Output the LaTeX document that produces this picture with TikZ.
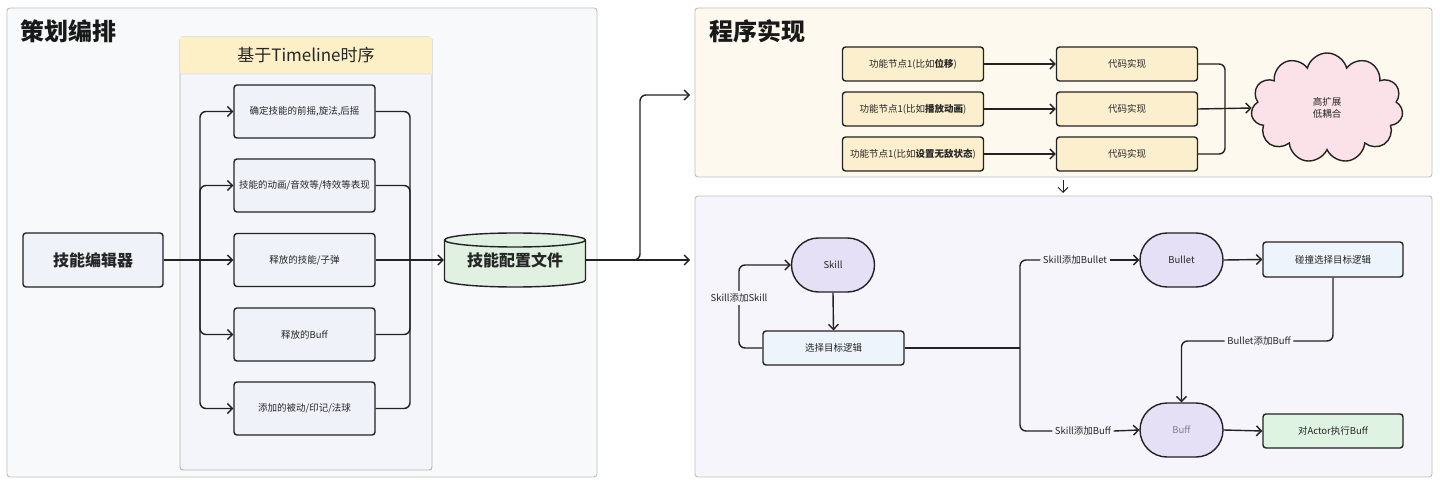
\documentclass[tikz,border=0pt]{standalone}
\usepackage{fontspec}
\setmainfont{Noto Sans CJK SC}
\usetikzlibrary{arrows.meta,shapes.misc,shapes.symbols}
\definecolor{leftBg}{HTML}{F8F9FB}
\definecolor{tlBg}{HTML}{F3F5FA}
\definecolor{tlHead}{HTML}{FDEFC6}
\definecolor{blueBox}{HTML}{EFF2F9}
\definecolor{cylFill}{HTML}{E0F1E1}
\definecolor{topBg}{HTML}{FDF9EE}
\definecolor{yelBox}{HTML}{FCEFCD}
\definecolor{pinkFill}{HTML}{FBE2E8}
\definecolor{botBg}{HTML}{F6F5FB}
\definecolor{lavFill}{HTML}{E6E0F7}
\definecolor{skyBox}{HTML}{EEF4FB}
\definecolor{greenBox}{HTML}{DEF3E2}
\definecolor{ink}{HTML}{222222}

\begin{document}
\begin{tikzpicture}[x=1pt,y=-1pt,>={Straight Barb[length=5pt,width=10pt]},
  line width=1.4pt,draw=ink,
  every node/.style={font=\fontsize{9.5}{11.5}\selectfont,text=black!85},
  panel/.style={draw=black!25,line width=0.9pt,rounded corners=3pt},
  box/.style={draw=ink,rounded corners=3pt,minimum width=141pt,minimum height=53pt,fill=blueBox,inner sep=0pt},
  fbox/.style={box,minimum height=34pt,fill=yelBox},
  pill/.style={rounded rectangle,draw=ink,minimum width=83pt,minimum height=54pt,fill=lavFill,inner sep=0pt},
  lbl/.style={inner sep=2pt},
  title/.style={font=\fontsize{24}{28}\selectfont\bfseries,text=black!90,anchor=west}]
  \useasboundingbox (0,0) rectangle (1440,486);

  \draw[panel,fill=leftBg] (7,8) rectangle (597,477);
  \node[title] (planT) at (16,31) {策划编排};
  \draw[panel,draw=black!30,fill=tlBg] (180,37) rectangle (432,470);
  \fill[black!8] (181,40) rectangle (432,75);
  \node[fill=tlHead,minimum width=252pt,minimum height=36pt,inner sep=0pt,
    font=\fontsize{17}{20}\selectfont] (tlH) at (306,55) {基于Timeline时序};

  \node[box,minimum width=140pt,minimum height=54pt,font=\fontsize{16}{19}\selectfont\bfseries] (ed) at (93,260) {技能编辑器};
  \node[box] (tl1) at (304.5,111.5) {确定技能的前摇,旋法,后摇};
  \node[box] (tl2) at (304.5,185.5) {技能的动画/音效等/特效等表现};
  \node[box] (tl3) at (304.5,260) {释放的技能/子弹};
  \node[box] (tl4) at (304.5,334.5) {释放的Buff};
  \node[box] (tl5) at (304.5,408.5) {添加的被动/印记/法球};

  \fill[cylFill] (444.5,240) -- (444.5,280) arc[start angle=180,end angle=360,x radius=70.5pt,y radius=7pt]
    -- (585.5,240) arc[start angle=0,end angle=180,x radius=70.5pt,y radius=7pt] -- cycle;
  \draw (444.5,240) -- (444.5,280) arc[start angle=180,end angle=360,x radius=70.5pt,y radius=7pt]
    -- (585.5,240) arc[start angle=0,end angle=180,x radius=70.5pt,y radius=7pt];
  \draw (444.5,240) arc[start angle=180,end angle=360,x radius=70.5pt,y radius=7pt];
  \node[minimum width=141pt,minimum height=54pt,inner sep=0pt,
    font=\fontsize{16}{19}\selectfont\bfseries] (cfg) at (515,260) {\raisebox{-5pt}{技能配置文件}};

  \coordinate (jl) at (200,260);
  \coordinate (jr) at (410,260);
  \draw (ed.east) -- (jl);
  \draw[->,rounded corners=6pt] (jl) |- (tl1.west);
  \draw[->,rounded corners=6pt] (jl) |- (tl2.west);
  \draw[->] (jl) -- (tl3.west);
  \draw[->,rounded corners=6pt] (jl) |- (tl4.west);
  \draw[->,rounded corners=6pt] (jl) |- (tl5.west);
  \draw[rounded corners=6pt] (tl1.east) -| (jr);
  \draw[rounded corners=6pt] (tl2.east) -| (jr);
  \draw[rounded corners=6pt] (tl4.east) -| (jr);
  \draw[rounded corners=6pt] (tl5.east) -| (jr);
  \draw[->] (tl3.east) -- (cfg.west);

  \coordinate (progIn) at (690,95);
  \coordinate (flowIn) at (690,260);
  \draw[->] (cfg.east) -- (flowIn);
  \draw[->,rounded corners=6pt] (cfg.east) -- (640,260) |- (progIn);

  \draw[panel,fill=topBg] (695,8) rectangle (1432,177);
  \node[title] (progT) at (705,31) {程序实现};
  \node[fbox] (fn1) at (913,64) {功能节点1(比如\textbf{位移})};
  \node[fbox] (fn2) at (913,109) {功能节点1(比如\textbf{播放动画})};
  \node[fbox] (fn3) at (913,154) {功能节点1(比如\textbf{设置无敌状态})};
  \node[fbox] (code1) at (1127,64) {代码实现};
  \node[fbox] (code2) at (1127,109) {代码实现};
  \node[fbox] (code3) at (1127,154) {代码实现};
  \node[cloud,cloud puffs=11,aspect=1.4,draw=ink,fill=pinkFill,minimum width=152pt,
    minimum height=110pt,inner sep=0pt,align=center] (cloud) at (1327,108) {高扩展\\低耦合};
  \draw[->] (fn1.east) -- (code1.west);
  \draw[->] (fn2.east) -- (code2.west);
  \draw[->] (fn3.east) -- (code3.west);
  \coordinate (jc) at (1225,109);
  \draw[rounded corners=6pt] (code1.east) -| (jc);
  \draw[rounded corners=6pt] (code3.east) -| (jc);
  \draw[->] (code2.east) -- (cloud.west);

  \coordinate (downA) at (1063,180);
  \coordinate (downB) at (1063,193);
  \draw[->,line width=1pt] (downA) -- (downB);

  \draw[panel,fill=botBg] (695,196) rectangle (1432,477);
  \node[pill] (skill) at (833,265) {Skill};
  \node[box,minimum height=34pt,fill=skyBox] (sel) at (833.5,348) {选择目标逻辑};
  \node[pill] (bullet) at (1181.5,260) {Bullet};
  \node[box,minimum width=140pt,minimum height=35pt,fill=skyBox] (hit) at (1333,259.5) {碰撞选择目标逻辑};
  \node[pill,text=black!50] (buff) at (1181.5,430) {Buff};
  \node[box,minimum width=140pt,minimum height=34pt,fill=greenBox] (act) at (1333,431) {对Actor执行Buff};

  \node[lbl] (lSS) at (739,298) {Skill添加Skill};
  \node[lbl] (lSB) at (1075,260) {Skill添加Bullet};
  \node[lbl] (lSF) at (1083,431) {Skill添加Buff};
  \node[lbl] (lBF) at (1259,341) {Bullet添加Buff};

  \draw[->] (skill.south) -- (sel.north);
  \draw[rounded corners=6pt] (sel.west) -| (lSS.south);
  \draw[->,rounded corners=6pt] (lSS.north) |- (skill.west);
  \coordinate (jb) at (1020,348);
  \draw (sel.east) -- (jb);
  \draw[rounded corners=6pt] (jb) |- (lSB.west);
  \draw[rounded corners=6pt] (jb) |- (lSF.west);
  \draw[->] (lSB.east) -- (bullet.west);
  \draw[->] (lSF.east) -- (buff.west);
  \draw[->] (bullet.east) -- (hit.west);
  \draw[rounded corners=6pt] (hit.south) |- (lBF.east);
  \draw[->,rounded corners=6pt] (lBF.west) -| (buff.north);
  \draw[->] (buff.east) -- (act.west);
\end{tikzpicture}
\end{document}
